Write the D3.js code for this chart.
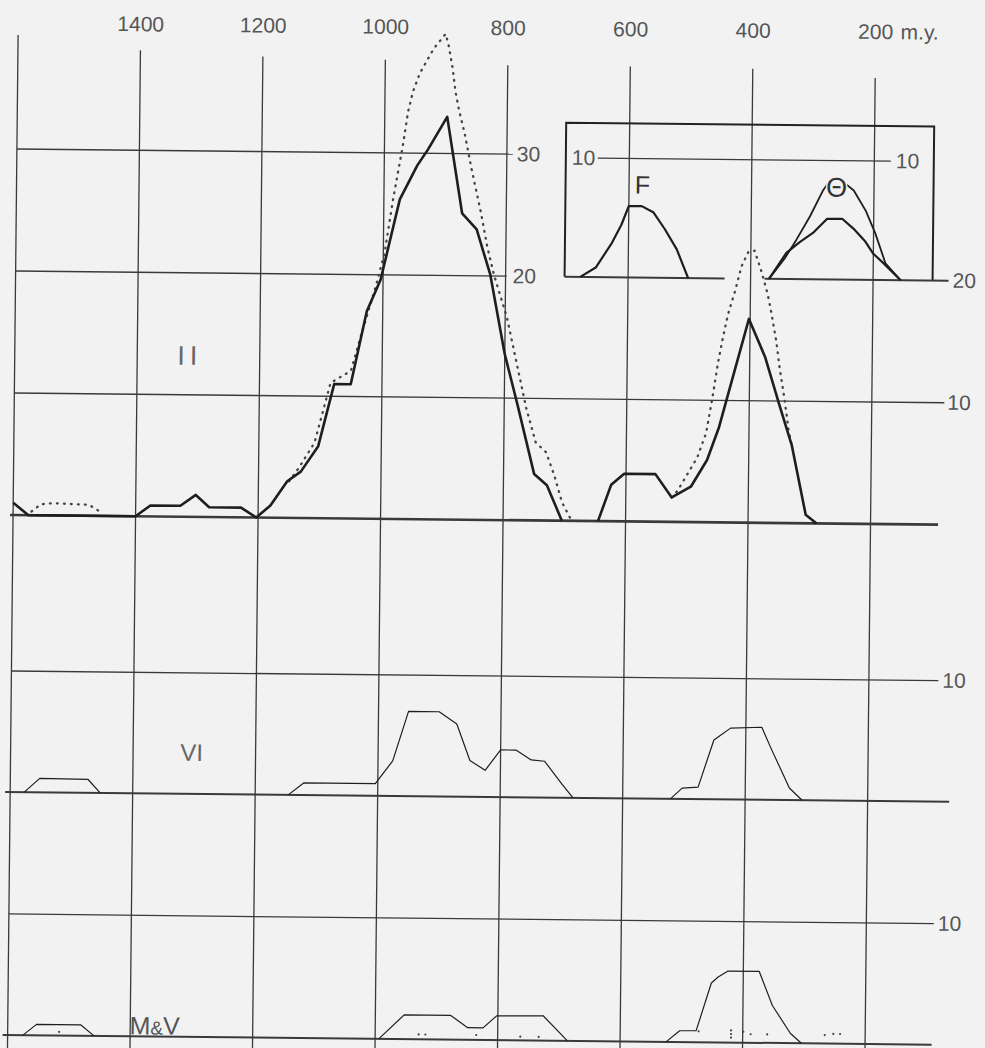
<!DOCTYPE html>
<html>
<head>
<meta charset="utf-8">
<script src="https://cdn.jsdelivr.net/npm/d3@7"></script>
<style>
  html, body { margin: 0; padding: 0; background: #f2f2f2; }
  svg { display: block; }
  text { font-family: "Liberation Sans", Arial, sans-serif; fill: #555; }
</style>
</head>
<body>
<svg id="chart" width="985" height="1048"></svg>
<script>
// time grid, million years
const gridAges = [1600, 1400, 1200, 1000, 800, 600, 400, 200];
const ageLabels = ["", "1400", "1200", "1000", "800", "600", "400", "200"];
const unitLabel = "m.y.";

// panel II: solid curve in two runs, dotted curve in three runs  [age, value]
const iiSolidA = [[1600,1.0],[1575,0],[1400,0],[1376,0.9],[1327,0.9],[1302,1.8],[1280,0.8],[1228,0.8],[1203,0],[1180,1.0],[1153,3.0],[1131,3.8],[1103,5.9],[1078,11.0],[1051,11.0],[1026,17.0],[1004,19.6],[974,26.2],[946,29.0],[929,30.3],[898,33.0],[872,25.1],[848,23.8],[825,20.1],[800,13.6],[778,9.4],[750,3.8],[729,2.9],[704,0]];
const iiSolidB = [[645,0],[624,3.0],[603,3.9],[552,3.9],[525,2.0],[494,2.9],[468,5.1],[449,7.8],[402,16.7],[375,13.6],[351,9.7],[330,6.4],[306,0.7],[288,0]];
const iiDotA = [[1570,0.3],[1555,0.9],[1536,1.0],[1476,0.9],[1465,0.55],[1454,0.25]];
const iiDotB = [[1150,3.0],[1133,4.2],[1109,6.2],[1084,11.1],[1051,12.1],[1034,15.2],[1012,19.0],[998,21.8],[985,26.2],[970,30.6],[962,33.4],[954,35.1],[943,36.6],[921,38.6],[902,39.8],[897,38.9],[890,37.0],[885,35.1],[879,33.6],[869,31.6],[858,28.9],[841,25.1],[830,22.3],[819,20.1],[797,16.6],[781,13.0],[764,9.2],[748,6.4],[731,5.6],[717,3.7],[704,1.5],[688,0]];
const iiDotC = [[525,2.0],[515,2.6],[499,4.0],[484,5.3],[470,7.3],[460,10.3],[452,13.0],[444,15.2],[436,17.1],[425,19.0],[415,21.0],[404,22.2],[394,22.3],[383,20.7],[372,18.8],[365,17.1],[357,14.9],[351,12.7],[343,10.3],[335,7.5],[330,6.4]];
const iiTicks = [10, 20, 30];

// panel VI
const viA = [[1577,0],[1552,1.15],[1473,1.1],[1453,0]];
const viB = [[1146,0],[1121,1.0],[1004,1.0],[976,2.9],[951,7.0],[901,7.0],[872,6.0],[850,3.0],[825,2.2],[800,3.9],[775,3.9],[750,3.1],[728,3.0],[699,1.1],[681,0]];
const viC = [[522,0],[503,0.9],[477,1.0],[452,4.9],[444,5.2],[425,5.9],[374,6.0],[358,4.2],[342,2.5],[328,1.0],[307,0]];

// panel M&V
const mvA = [[1575,0],[1553,0.9],[1481,0.9],[1459,0]];
const mvB = [[994,0],[953,2.0],[877,2.0],[849,1.0],[824,1.0],[802,2.0],[726,2.05],[686,0]];
const mvC = [[525,0],[503,0.93],[476,0.95],[452,4.9],[441,5.4],[425,5.9],[374,5.9],[352,3.1],[322,0.8],[304,0]];
const mvDots = [[1516,0.3],[929,0.4],[918,0.4],[835,0.4],[763,0.3],[733,0.3],[472,0.9],[419,1.0],[419,0.7],[419,0.4],[399,0.9],[387,0.7],[360,0.7],[266,0.7],[252,0.8],[241,0.8]];

// inset: F and theta
const insetF = [[678,0],[653,0.8],[628,2.8],[612,4.4],[600,6.0],[579,6.0],[560,5.5],[541,4.1],[521,2.4],[502,0]];
const thetaOuter = [[370,0],[345,1.7],[326,3.3],[304,5.3],[283,7.5],[271,8.4],[255,8.4],[233,7.5],[213,5.8],[197,3.9],[180,1.4],[155,0]];
const thetaInner = [[370,0],[342,2.2],[321,3.1],[299,3.9],[276,5.1],[251,5.1],[233,4.3],[213,3.2],[200,2.2],[183,1.4],[155,0]];

const svg = d3.select("#chart");
svg.append("rect").attr("width", 985).attr("height", 1048).attr("fill", "#f2f2f2");

// the scan is turned a little clockwise
const g = svg.append("g").attr("transform", "rotate(0.6,492,524)");

const x = d3.scaleLinear().domain([1600, 200]).range([13, 870.5]);
const yII = d3.scaleLinear().domain([0, 30]).range([520, 154]);
const yVI = d3.scaleLinear().domain([0, 10]).range([797, 676]);
const yMV = d3.scaleLinear().domain([0, 10]).range([1040, 919]);
const yIn = d3.scaleLinear().domain([0, 10]).range([yII(20), 157]);

const gridColor = "#3a3a3a";

// vertical grid lines, each starts at its own height
const gridTop = [40, 54, 59, 61, 65, 65, 66, 74];
g.selectAll("line.vgrid")
  .data(gridAges)
  .join("line")
  .attr("class", "vgrid")
  .attr("x1", d => x(d)).attr("x2", d => x(d))
  .attr("y1", (d, i) => gridTop[i]).attr("y2", 1070)
  .attr("stroke", gridColor).attr("stroke-width", 1.3);

// top labels
g.selectAll("text.age")
  .data(gridAges)
  .join("text")
  .attr("class", "age")
  .attr("x", d => x(d))
  .attr("y", 35)
  .attr("text-anchor", "middle")
  .attr("font-size", 21)
  .text((d, i) => ageLabels[i]);
g.append("text")
  .attr("x", x(200) + 25).attr("y", 35)
  .attr("font-size", 21)
  .text(unitLabel);

function hline(y, x1, x2, w) {
  g.append("line")
    .attr("x1", x1).attr("x2", x2).attr("y1", y).attr("y2", y)
    .attr("stroke", gridColor).attr("stroke-width", w || 1.3);
}
function label(txt, xx, y, size) {
  g.append("text").attr("x", xx).attr("y", y + 7).attr("font-size", size || 21).text(txt);
}

// panel II grid
const iiLineEnd = {10: 943, 20: 504, 30: 509};
const iiLabelX = {10: 946, 20: 510, 30: 513};
iiTicks.forEach(t => {
  hline(yII(t), 13, iiLineEnd[t]);
  label(t, iiLabelX[t], yII(t));
});
label(20, 950, yII(20));

// inset box
g.append("path")
  .attr("d", `M562,${yII(20)}V122H930V${yII(20)}`)
  .attr("fill", "none").attr("stroke", "#222").attr("stroke-width", 2);
hline(yII(20), 562, 722, 2);
hline(yII(20), 762, 946, 2);
hline(yIn(10), 594, 887, 1.2);
label(10, 568, yIn(10));
label(10, 892, yIn(10));

// baselines
hline(yII(0), 10, 938, 2.6);
hline(yVI(10), 13, 940);
label(10, 944, yVI(10));
hline(yVI(0), 8, 952, 2);
hline(yMV(10), 13, 938);
label(10, 942, yMV(10));
hline(yMV(0), 8, 937, 2);

function curve(data, yScale, width, dotted) {
  const line = d3.line().x(d => x(d[0])).y(d => yScale(d[1]));
  const p = g.append("path")
    .attr("d", line(data))
    .attr("fill", "none")
    .attr("stroke", dotted ? "#444" : "#1e1e1e")
    .attr("stroke-width", width)
    .attr("stroke-linejoin", "round");
  if (dotted) p.attr("stroke-dasharray", "0.8,6.2").attr("stroke-linecap", "round");
}

// panel II
[iiDotA, iiDotB, iiDotC].forEach(d => curve(d, yII, 2.3, true));
[iiSolidA, iiSolidB].forEach(d => curve(d, yII, 2.6, false));

// inset
curve(insetF, yIn, 2.2, false);
curve(thetaOuter, yIn, 1.8, false);
curve(thetaInner, yIn, 2.2, false);

// panel VI and M&V
[viA, viB, viC].forEach(d => curve(d, yVI, 1.2, false));
[mvA, mvB, mvC].forEach(d => curve(d, yMV, 1.2, false));
g.selectAll("circle.mvdot")
  .data(mvDots)
  .join("circle")
  .attr("class", "mvdot")
  .attr("cx", d => x(d[0])).attr("cy", d => yMV(d[1]))
  .attr("r", 1.1).attr("fill", "#444");

// panel names
g.append("text").attr("x", 639).attr("y", 192).attr("text-anchor", "middle")
  .attr("font-size", 25).style("fill", "#333").text("F");
g.append("text").attr("x", 833).attr("y", 193).attr("text-anchor", "middle")
  .attr("font-size", 27).style("fill", "#333")
  .attr("stroke", "#f2f2f2").attr("stroke-width", 3).attr("paint-order", "stroke")
  .text("Θ");
g.append("text").attr("x", 188).attr("y", 368).attr("text-anchor", "middle")
  .attr("font-size", 27).attr("letter-spacing", 5).style("fill", "#666").text("II");
g.append("text").attr("x", 194).attr("y", 764).attr("text-anchor", "middle")
  .attr("font-size", 24).style("fill", "#666").text("VI");
const mv = g.append("text").attr("x", 160).attr("y", 1038).attr("text-anchor", "middle")
  .attr("font-size", 25).style("fill", "#555");
mv.append("tspan").text("M");
mv.append("tspan").attr("font-size", 19).text("&");
mv.append("tspan").text("V");
</script>
</body>
</html>
